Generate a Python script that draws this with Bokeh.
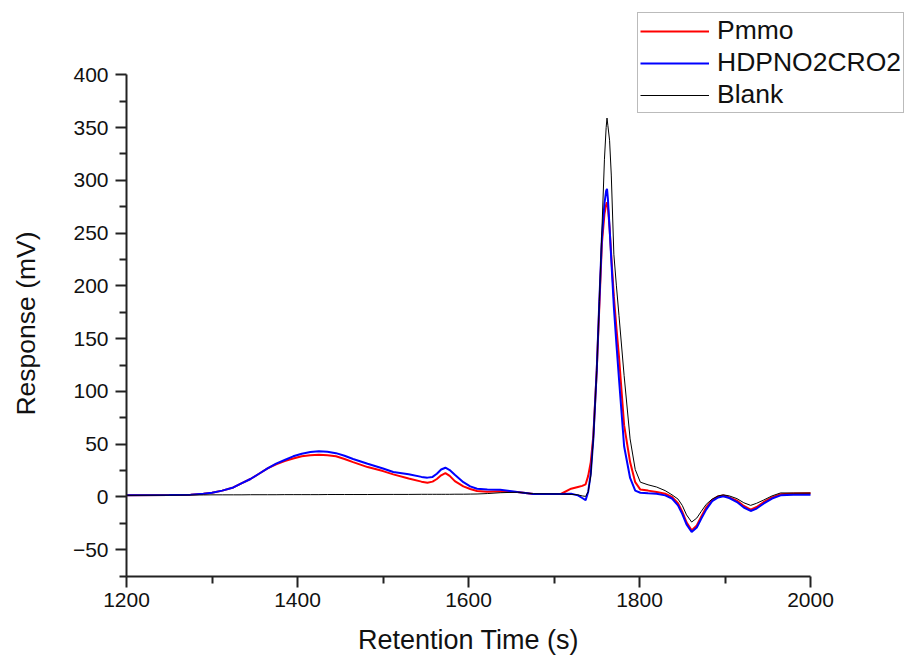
import math
from bokeh.plotting import figure
from bokeh.models import Range1d, Legend, LegendItem, FixedTicker, Label
from bokeh.embed import file_html
from bokeh.resources import INLINE

time_s = [1200, 1250, 1275, 1290, 1300, 1312, 1325, 1335, 1345, 1355, 1365, 1375,
          1385, 1395, 1405, 1415, 1425, 1435, 1445, 1455, 1465, 1482, 1500, 1512,
          1530, 1545, 1552, 1558, 1563, 1568, 1573, 1578, 1584, 1594, 1602, 1610,
          1622, 1637, 1657, 1676, 1708, 1720, 1728, 1733, 1737, 1740, 1743, 1746,
          1750, 1753, 1756, 1759, 1761, 1762, 1763, 1765, 1767, 1770, 1773, 1776,
          1782, 1789, 1795, 1801, 1810, 1820, 1830, 1838, 1845, 1850, 1855, 1861,
          1867, 1872, 1878, 1885, 1892, 1898, 1905, 1914, 1922, 1930, 1937, 1945,
          1955, 1965, 1980, 2000]

pmmo = [1.5, 1.8, 2.2, 3, 4, 6, 9, 13, 17, 22, 27, 31,
        34, 36.5, 38.5, 39.6, 40, 39.5, 38.5, 36, 33, 28.3, 24.5, 21.4,
        17.5, 14.5, 13.5, 14.5, 17, 20.5, 22.6, 20, 15, 10, 7.5, 5.6,
        5, 5.3, 4.7, 2.8, 2.8, 7.8, 9.5, 10.5, 12, 20, 33, 58,
        120, 180, 240, 268, 277, 279, 275, 255, 228, 190, 160, 133,
        68, 33, 14, 7, 6, 4.7, 3, 0, -6, -14, -24, -31.7,
        -27, -19, -10, -3, 0.5, 1.4, -0.5, -3.5, -8.5, -12, -9.5, -5,
        -0.5, 2.5, 3.3, 3.5]

hdpno2cro2 = [1.5, 1.8, 2.2, 3, 4, 6, 9, 13, 17, 22, 27, 31.5,
              35, 38.5, 41, 42.6, 43.2, 42.8, 41.5, 39, 36, 31.5, 27, 23.6,
              21.5, 19, 18.3, 19, 22, 26, 27.7, 25.5, 21, 14, 10, 7.8,
              7, 6.9, 4.7, 2.8, 2.8, 3, 1.5, -1, -3, 5, 22, 55,
              120, 185, 245, 278, 290, 292, 283, 255, 225, 180, 145, 112,
              48, 18, 6, 4, 3.5, 3.1, 1.5, -1.5, -8, -16, -26, -33.2,
              -29, -21, -12, -4, -0.5, 0.6, -1, -4.8, -10, -13.3, -11, -6.4,
              -1.5, 1.5, 2, 2]

blank = [1.5, 1.7, 1.8, 1.9, 2, 2, 2, 2, 2.1, 2.1, 2.1, 2.1,
         2.2, 2.2, 2.2, 2.2, 2.2, 2.3, 2.3, 2.3, 2.3, 2.3, 2.4, 2.4,
         2.4, 2.5, 2.5, 2.5, 2.5, 2.5, 2.5, 2.5, 2.6, 2.6, 2.7, 2.8,
         3.2, 4, 4.5, 3, 2.8, 2.5, 2, 1, 0.5, 5, 20, 55,
         120, 185, 252, 320, 350, 359, 352, 338, 305, 230, 200, 172,
         115, 55, 26, 14, 11.5, 9.4, 6, 2, -2, -8, -17, -23.8,
         -20, -14, -7, -2, 1, 2, 1, -1.6, -5.5, -8, -6, -3,
         1, 3.8, 3.7, 3.7]

assert len(time_s) == len(pmmo) == len(hdpno2cro2) == len(blank)

series_names = ["Pmmo", "HDPNO2CRO2", "Blank"]
x_title = "Retention Time (s)"
y_title = "Response (mV)"

x_ticks = [1200, 1400, 1600, 1800, 2000]
x_minor = [1300, 1500, 1700, 1900]
y_ticks = [-50, 0, 50, 100, 150, 200, 250, 300, 350, 400]
y_minor = [-75, -25, 25, 75, 125, 175, 225, 275, 325, 375]
x_lim = (1200, 2000)
y_lim = (-75, 400)

FONT = "Liberation Sans"
W, H = 905, 655
# pixel position of the axes box in the page
AX_LEFT, AX_RIGHT, AX_TOP, AX_BOTTOM = 126.0, 810.0, 74.3, 575.6
kx = (AX_RIGHT - AX_LEFT) / (x_lim[1] - x_lim[0])
ky = (AX_BOTTOM - AX_TOP) / (y_lim[1] - y_lim[0])


def px_to_x(px):
    return x_lim[0] + (px - AX_LEFT) / kx


def py_to_y(py):
    return y_lim[0] + (AX_BOTTOM - py) / ky


# The frame covers the whole page so that the legend (which sits partly
# outside the axes box) is not clipped; the axes are placed at fixed
# locations and bounded to the data box.
p = figure(frame_width=W, frame_height=H, output_backend="svg",
           toolbar_location=None,
           x_range=Range1d(px_to_x(0), px_to_x(W)),
           y_range=Range1d(py_to_y(H), py_to_y(0)),
           min_border=0)
p.outline_line_color = None
p.xgrid.visible = False
p.ygrid.visible = False
p.background_fill_color = "white"
p.border_fill_color = "white"

r1 = p.line(time_s, pmmo, line_color="#ff0000", line_width=2)
r2 = p.line(time_s, hdpno2cro2, line_color="#0000ff", line_width=2)
r3 = p.line(time_s, blank, line_color="#000000", line_width=1)

for ax in (p.xaxis[0], p.yaxis[0]):
    ax.axis_line_width = 2
    ax.axis_line_color = "#222222"
    ax.major_tick_line_width = 2
    ax.minor_tick_line_width = 2
    ax.major_tick_line_color = "#222222"
    ax.minor_tick_line_color = "#222222"
    ax.major_tick_in = 0
    ax.minor_tick_in = 0
    ax.major_tick_out = 11
    ax.minor_tick_out = 7
    ax.major_label_text_font = FONT
    ax.major_label_text_font_size = "21px"
    ax.major_label_text_color = "#111111"

p.xaxis[0].fixed_location = y_lim[0]
p.yaxis[0].fixed_location = x_lim[0]
p.xaxis[0].bounds = x_lim
p.yaxis[0].bounds = y_lim
p.xaxis[0].ticker = FixedTicker(ticks=x_ticks, minor_ticks=x_minor)
p.yaxis[0].ticker = FixedTicker(ticks=y_ticks, minor_ticks=y_minor)
p.xaxis[0].major_label_standoff = 6
p.yaxis[0].major_label_standoff = 7

p.add_layout(Label(x=px_to_x(468), y=py_to_y(639), text=x_title,
                   text_font=FONT, text_font_size="27px", text_color="#111111",
                   text_align="center", text_baseline="alphabetic"))
p.add_layout(Label(x=px_to_x(25), y=py_to_y(323), text=y_title, angle=math.pi / 2,
                   text_font=FONT, text_font_size="26.5px", text_color="#111111",
                   text_align="center", text_baseline="middle"))

legend = Legend(items=[LegendItem(label=series_names[0], renderers=[r1]),
                       LegendItem(label=series_names[1], renderers=[r2]),
                       LegendItem(label=series_names[2], renderers=[r3])],
                location=(637, H - 113))
legend.label_text_font = FONT
legend.label_text_font_size = "26.5px"
legend.label_text_color = "#111111"
legend.glyph_width = 69
legend.glyph_height = 28
legend.label_height = 28
legend.spacing = 1
legend.padding = 2
legend.margin = 0
legend.label_standoff = 8
legend.border_line_color = "#777777"
legend.border_line_width = 1.5
legend.background_fill_alpha = 1
p.add_layout(legend, "center")

open("out.html", "w").write(file_html(p, INLINE))
